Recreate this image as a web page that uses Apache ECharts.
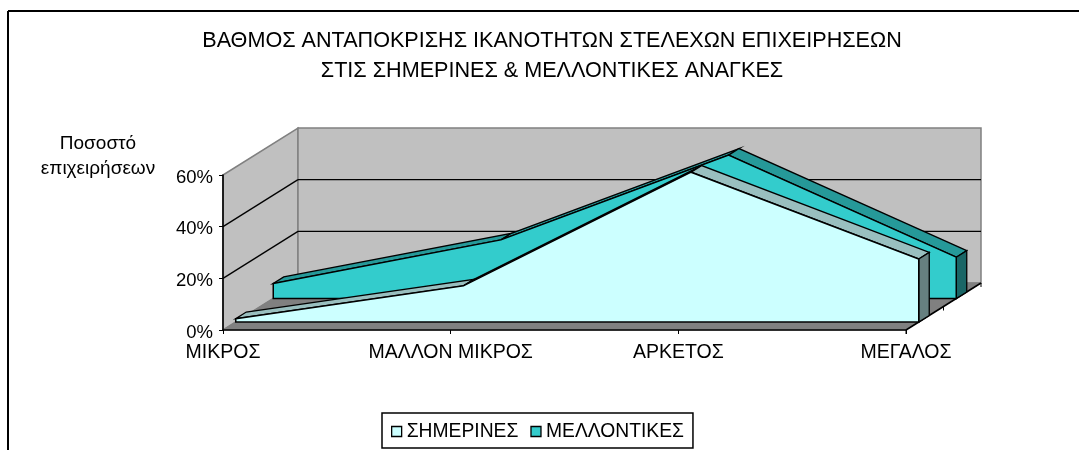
<!DOCTYPE html>
<html><head><meta charset="utf-8">
<style>html,body{margin:0;padding:0;background:#fff}#c{width:1079px;height:450px}</style>
<script src="https://cdn.jsdelivr.net/npm/echarts@6/dist/echarts.min.js"></script>
</head><body><div id="c"></div>
<script>
var categories = ['ΜΙΚΡΟΣ', 'ΜΑΛΛΟΝ ΜΙΚΡΟΣ', 'ΑΡΚΕΤΟΣ', 'ΜΕΓΑΛΟΣ'];
var simerines = [1.3, 14, 58, 24.4];
var mellontikes = [5.8, 22.7, 55.5, 16];
var yTicks = [0, 20, 40, 60];

var DX = 75, DY = -47;
var FONT = '"Liberation Sans", Arial, sans-serif';
function off(p, d) { return [p[0] + DX * d, p[1] + DY * d]; }
function poly(points, fill, stroke, w, z) {
  return { type: 'polygon', shape: { points: points },
    style: { fill: fill, stroke: stroke || 'none', lineWidth: w === undefined ? 1 : w } };
}
function seg(a, b, stroke, w) {
  return { type: 'line', shape: { x1: a[0], y1: a[1], x2: b[0], y2: b[1] }, style: { stroke: stroke, lineWidth: w } };
}

function wallsRender(params, api) {
  if (params.dataIndex !== 0) return;
  var o = api.coord([0, 0]), t = api.coord([0, 60]), r = api.coord([categories.length - 1, 0]), rt = api.coord([categories.length - 1, 60]);
  var ch = [
    poly([o, t, off(t, 1), off(o, 1)], '#C0C0C0', '#808080', 1.5),
    poly([off(o, 1), off(t, 1), off(rt, 1), off(r, 1)], '#C0C0C0', '#808080', 1.5),
    poly([o, r, off(r, 1), off(o, 1)], '#808080', '#808080', 1)
  ];
  yTicks.forEach(function (v) {
    if (v === 0 || v === 60) return;
    var a = api.coord([0, v]), b = api.coord([categories.length - 1, v]);
    ch.push(seg(a, off(a, 1), '#000', 1.3));
    ch.push(seg(off(a, 1), off(b, 1), '#000', 1.3));
  });
  ch.push(seg(r, off(r, 1), '#000', 1.6));
  [0, 0.5, 1].forEach(function (d) {
    var p = off(r, d);
    ch.push(seg(p, [p[0], p[1] + 4], '#000', 1));
  });
  return { type: 'group', children: ch };
}

function ribbon(values, d0, d1, cFront, cTop, cSide) {
  return function (params, api) {
    if (params.dataIndex !== 0) return;
    var front = [], back = [], n = values.length;
    for (var i = 0; i < n; i++) {
      var p = api.coord([i, values[i]]);
      front.push(off(p, d0)); back.push(off(p, d1));
    }
    var b0 = off(api.coord([0, 0]), d0), b1 = off(api.coord([n - 1, 0]), d0), b2 = off(api.coord([n - 1, 0]), d1);
    var ch = [];
    for (var j = 0; j < n - 1; j++) {
      ch.push(poly([front[j], front[j + 1], back[j + 1], back[j]], cTop, '#000', 1.3));
    }
    ch.push(poly([front[n - 1], back[n - 1], b2, b1], cSide, '#000', 1.3));
    ch.push(poly(front.concat([b1, b0]), cFront, '#000', 1.5));
    return { type: 'group', children: ch };
  };
}

var S1D = [0.17, 0.31], S2D = [0.67, 0.81];
var chart = echarts.init(document.getElementById('c'), null, { renderer: 'canvas' });
chart.setOption({
  animation: false,
  backgroundColor: '#fff',
  textStyle: { fontFamily: FONT, color: '#000' },
  grid: { left: 223, right: 173, top: 175, bottom: 120, containLabel: false },
  xAxis: {
    type: 'category', data: categories, boundaryGap: false,
    axisLine: { lineStyle: { color: '#000', width: 1.6 } },
    axisTick: { show: true, length: 4, lineStyle: { color: '#000' }, alignWithLabel: true },
    axisLabel: { color: '#000', fontSize: 19.5, fontFamily: FONT, margin: 13, interval: 0, hideOverlap: false },
    splitLine: { show: false }, z: 10
  },
  yAxis: {
    type: 'value', min: 0, max: 60, interval: 20,
    axisLine: { show: true, lineStyle: { color: '#000', width: 1.6 } },
    axisTick: { show: true, length: 4, lineStyle: { color: '#000' } },
    axisLabel: { color: '#000', fontSize: 18.5, fontFamily: FONT, margin: 10, verticalAlign: 'top', lineHeight: 5, formatter: '{value}%' },
    splitLine: { show: false }, z: 10
  },
  legend: {
    show: true, left: 382, top: 413, orient: 'horizontal', padding: [9, 9, 7, 9],
    itemWidth: 10, itemHeight: 10, itemGap: 12,
    borderColor: '#000', borderWidth: 1.5, backgroundColor: '#fff',
    textStyle: { fontSize: 19.3, fontFamily: FONT, color: '#000' },
    data: [
      { name: 'ΣΗΜΕΡΙΝΕΣ', icon: 'rect', itemStyle: { color: '#CCFFFF', borderColor: '#000', borderWidth: 1.3 } },
      { name: 'ΜΕΛΛΟΝΤΙΚΕΣ', icon: 'rect', itemStyle: { color: '#33CCCC', borderColor: '#000', borderWidth: 1.3 } }
    ]
  },
  graphic: [
    { type: 'line', shape: { x1: 8, y1: 11, x2: 1079, y2: 11 }, style: { stroke: '#000', lineWidth: 2 }, silent: true, z: 50 },
    { type: 'line', shape: { x1: 8, y1: 11, x2: 8, y2: 450 }, style: { stroke: '#000', lineWidth: 2 }, silent: true, z: 50 },
    { type: 'text', x: 552, y: 41, style: { text: 'ΒΑΘΜΟΣ ΑΝΤΑΠΟΚΡΙΣΗΣ ΙΚΑΝΟΤΗΤΩΝ ΣΤΕΛΕΧΩΝ ΕΠΙΧΕΙΡΗΣΕΩΝ', font: '21.6px ' + FONT, fill: '#000', textAlign: 'center', textVerticalAlign: 'middle' }, z: 50 },
    { type: 'text', x: 552, y: 71.5, style: { text: 'ΣΤΙΣ ΣΗΜΕΡΙΝΕΣ & ΜΕΛΛΟΝΤΙΚΕΣ ΑΝΑΓΚΕΣ', font: '21.6px ' + FONT, fill: '#000', textAlign: 'center', textVerticalAlign: 'middle' }, z: 50 },
    { type: 'text', x: 98, y: 144, style: { text: 'Ποσοστό', font: '19px ' + FONT, fill: '#000', textAlign: 'center', textVerticalAlign: 'middle' }, z: 50 },
    { type: 'text', x: 98, y: 169, style: { text: 'επιχειρήσεων', font: '19px ' + FONT, fill: '#000', textAlign: 'center', textVerticalAlign: 'middle' }, z: 50 }
  ],
  series: [
    { type: 'custom', name: 'walls', coordinateSystem: 'cartesian2d', renderItem: wallsRender, data: [[0, 0]], clip: false, z: 1, silent: true },
    { type: 'custom', name: 'ΜΕΛΛΟΝΤΙΚΕΣ', coordinateSystem: 'cartesian2d', renderItem: ribbon(mellontikes, S2D[0], S2D[1], '#33CCCC', '#269999', '#1A6666'), data: [[0, mellontikes[0]]], clip: false, z: 2, itemStyle: { color: '#33CCCC' } },
    { type: 'custom', name: 'ΣΗΜΕΡΙΝΕΣ', coordinateSystem: 'cartesian2d', renderItem: ribbon(simerines, S1D[0], S1D[1], '#CCFFFF', '#99BFBF', '#668080'), data: [[0, simerines[0]]], clip: false, z: 3, itemStyle: { color: '#CCFFFF' } }
  ]
});
</script></body></html>
